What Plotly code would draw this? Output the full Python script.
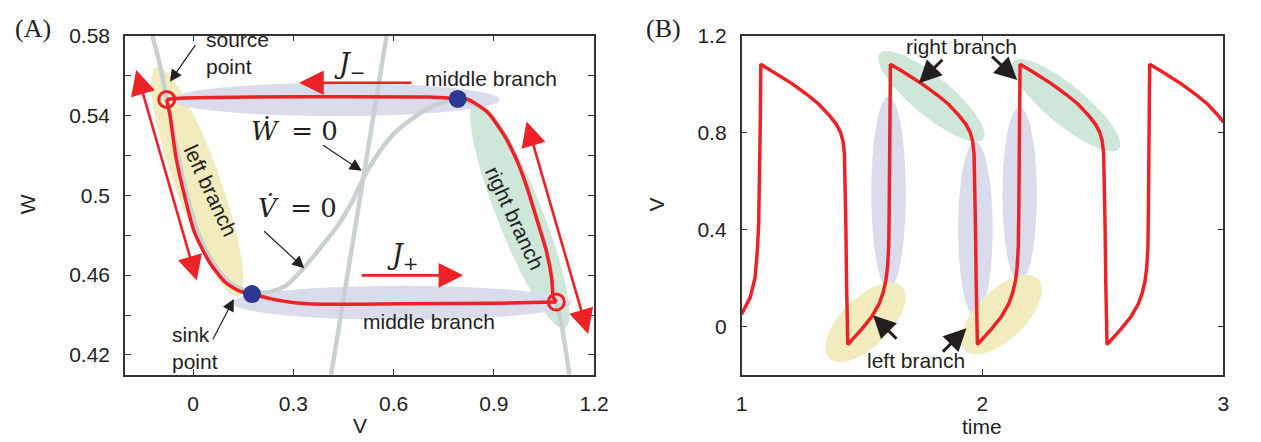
import numpy as np
import plotly.graph_objects as go

FIG_W, FIG_H = 1261, 442

# ---------------- Panel A : phase plane (V, W) ----------------
# V-nullcline (dV/dt = 0), cubic-shaped curve
nullV_V = [-0.122, -0.099, -0.082, -0.066, -0.044, -0.017, 0.014, 0.058, 0.105, 0.152,
           0.199, 0.234, 0.279, 0.332, 0.382, 0.432, 0.476, 0.520, 0.596, 0.684,
           0.755, 0.799, 0.846, 0.882, 0.931, 0.970, 0.999, 1.029, 1.058, 1.076,
           1.087, 1.102, 1.126]
nullV_W = [0.580, 0.565, 0.5504, 0.5382, 0.5187, 0.4993, 0.4814, 0.4667, 0.4568, 0.4525,
           0.4512, 0.4517, 0.4549, 0.4637, 0.4739, 0.4846, 0.4968, 0.5119, 0.5300, 0.5416,
           0.5470, 0.5480, 0.5451, 0.5415, 0.5301, 0.5171, 0.5041, 0.4879, 0.4716, 0.4578,
           0.4466, 0.4359, 0.4101]
# W-nullcline (dW/dt = 0)
nullW_V = [0.579, 0.496, 0.413]
nullW_W = [0.580, 0.495, 0.410]

# limit cycle, four pieces
top_V = [-0.079, -0.030, 0.176, 0.470, 0.705, 0.792]
top_W = [0.548, 0.5487, 0.5492, 0.5494, 0.5492, 0.5483]
right_V = [0.792, 0.823, 0.882, 0.931, 0.970, 0.999, 1.029, 1.058, 1.073, 1.078, 1.087]
right_W = [0.5483, 0.5480, 0.5415, 0.5301, 0.5171, 0.5041, 0.4879, 0.4716, 0.4587, 0.4489, 0.4465]
bot_V = [1.087, 0.911, 0.617, 0.382, 0.293, 0.234, 0.176]
bot_W = [0.4465, 0.4459, 0.4456, 0.4454, 0.4464, 0.4481, 0.4505]
left_V = [0.176, 0.137, 0.096, 0.048, 0.004, -0.025, -0.051, -0.069, -0.079]
left_W = [0.4505, 0.4521, 0.4564, 0.4667, 0.4814, 0.4993, 0.5187, 0.5398, 0.548]

# special points
open_V = [-0.079, 1.087]     # source point, right-branch jump point
open_W = [0.548, 0.4465]
dot_V = [0.792, 0.176]       # middle-branch entries
dot_W = [0.5483, 0.4505]

A_xticks = [0, 0.3, 0.6, 0.9, 1.2]
A_xticktext = ['0', '0.3', '0.6', '0.9', '1.2']
A_yticks = [0.42, 0.46, 0.50, 0.54, 0.58]
A_yticktext = ['0.42', '0.46', '0.5', '0.54', '0.58']
A_yminor = [0.44, 0.48, 0.52, 0.56]

# ---------------- Panel B : V(t) ----------------
time_B = [1.000, 1.036, 1.056, 1.065, 1.071, 1.075, 1.078, 1.080,
          1.129, 1.211, 1.272, 1.321, 1.366, 1.394, 1.411, 1.421, 1.427, 1.430, 1.433, 1.436, 1.441,
          1.466, 1.499, 1.541, 1.571, 1.587, 1.599, 1.606, 1.611, 1.613, 1.615, 1.618,
          1.667, 1.749, 1.810, 1.859, 1.904, 1.932, 1.949, 1.959, 1.965, 1.968, 1.971, 1.974, 1.979,
          2.004, 2.037, 2.079, 2.109, 2.125, 2.137, 2.144, 2.149, 2.151, 2.153, 2.156,
          2.205, 2.287, 2.348, 2.397, 2.442, 2.470, 2.487, 2.497, 2.503, 2.506, 2.509, 2.512, 2.517,
          2.542, 2.575, 2.617, 2.647, 2.663, 2.675, 2.682, 2.687, 2.689, 2.691, 2.694,
          2.743, 2.825, 2.886, 2.935, 2.980, 3.000]
V_B = [0.050, 0.120, 0.200, 0.306, 0.420, 0.600, 0.850, 1.082,
       1.053, 1.001, 0.957, 0.917, 0.869, 0.833, 0.801, 0.765, 0.713, 0.613, 0.413, 0.173, -0.075,
       -0.047, -0.011, 0.041, 0.093, 0.137, 0.189, 0.245, 0.333, 0.493, 0.773, 1.082,
       1.053, 1.001, 0.957, 0.917, 0.869, 0.833, 0.801, 0.765, 0.713, 0.613, 0.413, 0.173, -0.075,
       -0.047, -0.011, 0.041, 0.093, 0.137, 0.189, 0.245, 0.333, 0.493, 0.773, 1.082,
       1.053, 1.001, 0.957, 0.917, 0.869, 0.833, 0.801, 0.765, 0.713, 0.613, 0.413, 0.173, -0.075,
       -0.047, -0.011, 0.041, 0.093, 0.137, 0.189, 0.245, 0.333, 0.493, 0.773, 1.082,
       1.053, 1.001, 0.957, 0.917, 0.869, 0.843]

B_xticks = [1, 2, 3]
B_xticktext = ['1', '2', '3']
B_yticks = [0, 0.4, 0.8, 1.2]
B_yticktext = ['0', '0.4', '0.8', '1.2']

# ---------------- styles ----------------
RED = '#EC2227'
BLUE = '#2B3990'
GRAY = '#C8D0D2'
LAV = '#DADCEB'
YEL = '#F2EBBD'
GRN = '#CEE7D9'
TXT = '#231F20'
SANS = 'Liberation Sans, Arial, sans-serif'
SERIF = 'DejaVu Serif, serif'
FS = 21

# plot areas in pixels
A_L, A_R, B_L, B_R = 121, 598, 748, 1238
P_T, P_B = 24.3, 373


def pp(px, py):
    return px / FIG_W, 1 - py / FIG_H


def ellipse_path(cx, cy, a, b, ang, n=90):
    th = np.linspace(0, 2 * np.pi, n)
    c, s = np.cos(np.radians(ang)), np.sin(np.radians(ang))
    xs = cx + a * np.cos(th) * c - b * np.sin(th) * s
    ys = cy + a * np.cos(th) * s + b * np.sin(th) * c
    pts = [pp(x, y) for x, y in zip(xs, ys)]
    return 'M ' + ' L '.join(f'{x:.5f},{y:.5f}' for x, y in pts) + ' Z'


fig = go.Figure()

# Panel A traces
fig.add_trace(go.Scatter(x=nullV_V, y=nullV_W, mode='lines', xaxis='x', yaxis='y',
                         line=dict(color=GRAY, width=4.5, shape='spline', smoothing=0.8)))
fig.add_trace(go.Scatter(x=nullW_V, y=nullW_W, mode='lines', xaxis='x', yaxis='y',
                         line=dict(color=GRAY, width=4.5, shape='spline')))
for xs, ys in [(top_V, top_W), (right_V, right_W), (bot_V, bot_W), (left_V, left_W)]:
    fig.add_trace(go.Scatter(x=xs, y=ys, mode='lines', xaxis='x', yaxis='y',
                             line=dict(color=RED, width=3.5, shape='spline', smoothing=0.6)))
fig.add_trace(go.Scatter(x=open_V, y=open_W, mode='markers', xaxis='x', yaxis='y',
                         marker=dict(symbol='circle-open', size=16, color=RED, line=dict(width=3, color=RED))))
fig.add_trace(go.Scatter(x=dot_V, y=dot_W, mode='markers', xaxis='x', yaxis='y',
                         marker=dict(symbol='circle', size=18, color=BLUE)))

# Panel B trace
fig.add_trace(go.Scatter(x=time_B, y=V_B, mode='lines', xaxis='x2', yaxis='y2',
                         line=dict(color=RED, width=3.5)))

# highlight ellipses (pixel geometry)
shapes = []
hl = [
    # panel A
    (194.5, 174.5, 124.6, 23, 70.5, YEL),
    (522.5, 208.3, 125.3, 23, 68.6, GRN),
    (335, 90, 167, 17, 0, LAV),
    (402.5, 299, 172.5, 17.5, 0, LAV),
    # panel B
    (941, 86.7, 68.5, 20, 40, GRN),
    (1078, 95.8, 70, 20, 40, GRN),
    (897.5, 186, 17.5, 99, 0, LAV),
    (985.8, 223.3, 17.5, 90, 0, LAV),
    (1030.8, 188, 17.5, 90, 0, LAV),
    (874, 319, 52, 25, -45, YEL),
    (1012.5, 311, 52, 25, -45, YEL),
]
for cx, cy, a, b, ang, col in hl:
    shapes.append(dict(type='path', path=ellipse_path(cx, cy, a, b, ang), xref='paper', yref='paper',
                       fillcolor=col, line=dict(width=0), layer='below'))

ann = []


def text(px, py, s, size=FS, family=SANS, angle=0, xanchor='center', align='center'):
    x, y = pp(px, py)
    ann.append(dict(x=x, y=y, xref='paper', yref='paper', text=s, showarrow=False,
                    font=dict(size=size, family=family, color=TXT), textangle=angle,
                    xanchor=xanchor, yanchor='middle', align=align))


def arrow(tail, tip, color=TXT, width=1.2, size=2.0, head=2, both=False):
    x, y = pp(*tip)
    d = dict(x=x, y=y, xref='paper', yref='paper', text='', showarrow=True,
             axref='pixel', ayref='pixel', ax=tail[0] - tip[0], ay=tail[1] - tip[1],
             arrowcolor=color, arrowwidth=width, arrowsize=size, arrowhead=head, standoff=0)
    if both:
        d.update(arrowside='end+start', startarrowhead=head, startarrowsize=size, startstandoff=0)
    ann.append(d)


# panel labels
text(27, 17, '(A)', size=26, family='Liberation Serif, serif')
text(669, 17, '(B)', size=26, family='Liberation Serif, serif')
# axis titles
text(22, 198, 'W', angle=-90)
text(360, 425, 'V')
text(662, 198, 'V', angle=-90)
text(993, 426, 'time')

# panel A labels
text(201.7, 42.5, 'source<br>point', xanchor='left', align='left')
text(166.7, 345, 'sink<br>point', xanchor='left', align='left')
text(493.3, 68.3, 'middle branch')
text(430, 318.3, 'middle branch')
text(208.3, 183.3, 'left branch', angle=65)
text(517.5, 212.3, 'right branch', angle=65)
text(350, 55, '<i>J</i><sub>\u2212</sub>', size=27, family=SERIF)
text(404, 251, '<i>J</i><sub>+</sub>', size=27, family=SERIF)
text(293.5, 122, '<i>\u1E86</i> \u2009= 0', size=26, family=SERIF)
text(296, 201, '<i>V\u0307</i> \u2009= 0', size=26, family=SERIF)

arrow((193.3, 33.3), (166.7, 71.7))
arrow((210, 336.7), (231.7, 295))
arrow((321.7, 136.7), (361.7, 163.3))
arrow((261.7, 225), (303.3, 263.3))
arrow((412, 72.7), (298, 72.7), color=RED, width=2.6, size=1.9)
arrow((362, 270.7), (465, 270.7), color=RED, width=2.6, size=1.9)
arrow((133, 64), (194, 276), color=RED, width=2.6, size=1.9, both=True)
arrow((530, 117), (592, 331), color=RED, width=2.6, size=1.9, both=True)

# panel B labels
text(971.7, 35, 'right branch')
text(925.8, 358, 'left branch')
arrow((953.3, 48.3), (928.3, 73.3), width=3, size=1.5)
arrow((1001.7, 45), (1028.3, 70), width=3, size=1.5)
arrow((906.7, 336.7), (881.7, 311.7), width=3, size=1.5)
arrow((951.7, 350), (976.7, 325), width=3, size=1.5)

axis_common = dict(showline=True, linecolor='#333333', linewidth=1.5, mirror='ticks',
                   ticks='inside', ticklen=6, tickwidth=1.3, tickcolor='#333333',
                   showgrid=False, zeroline=False, ticklabelstandoff=9,
                   tickfont=dict(family=SANS, size=FS, color=TXT))
dom_y = [(FIG_H - P_B) / FIG_H, (FIG_H - P_T) / FIG_H]

fig.update_layout(
    width=FIG_W, height=FIG_H, autosize=False,
    margin=dict(l=0, r=0, t=0, b=0),
    paper_bgcolor='white', plot_bgcolor='rgba(0,0,0,0)',
    showlegend=False,
    xaxis=dict(domain=[A_L / FIG_W, A_R / FIG_W], range=[-0.204, 1.2], anchor='y',
               tickvals=A_xticks, ticktext=A_xticktext, **axis_common),
    yaxis=dict(domain=dom_y, range=[0.41, 0.58], anchor='x',
               tickvals=A_yticks, ticktext=A_yticktext,
               minor=dict(tickvals=A_yminor, ticks='inside', ticklen=6, tickwidth=1.3,
                          tickcolor='#333333', showgrid=False),
               **axis_common),
    xaxis2=dict(domain=[B_L / FIG_W, B_R / FIG_W], range=[1, 3], anchor='y2',
                tickvals=B_xticks, ticktext=B_xticktext, **axis_common),
    yaxis2=dict(domain=dom_y, range=[-0.2, 1.2], anchor='x2',
                tickvals=B_yticks, ticktext=B_yticktext, **axis_common),
    shapes=shapes, annotations=ann,
)

fig.write_html('out.html')
